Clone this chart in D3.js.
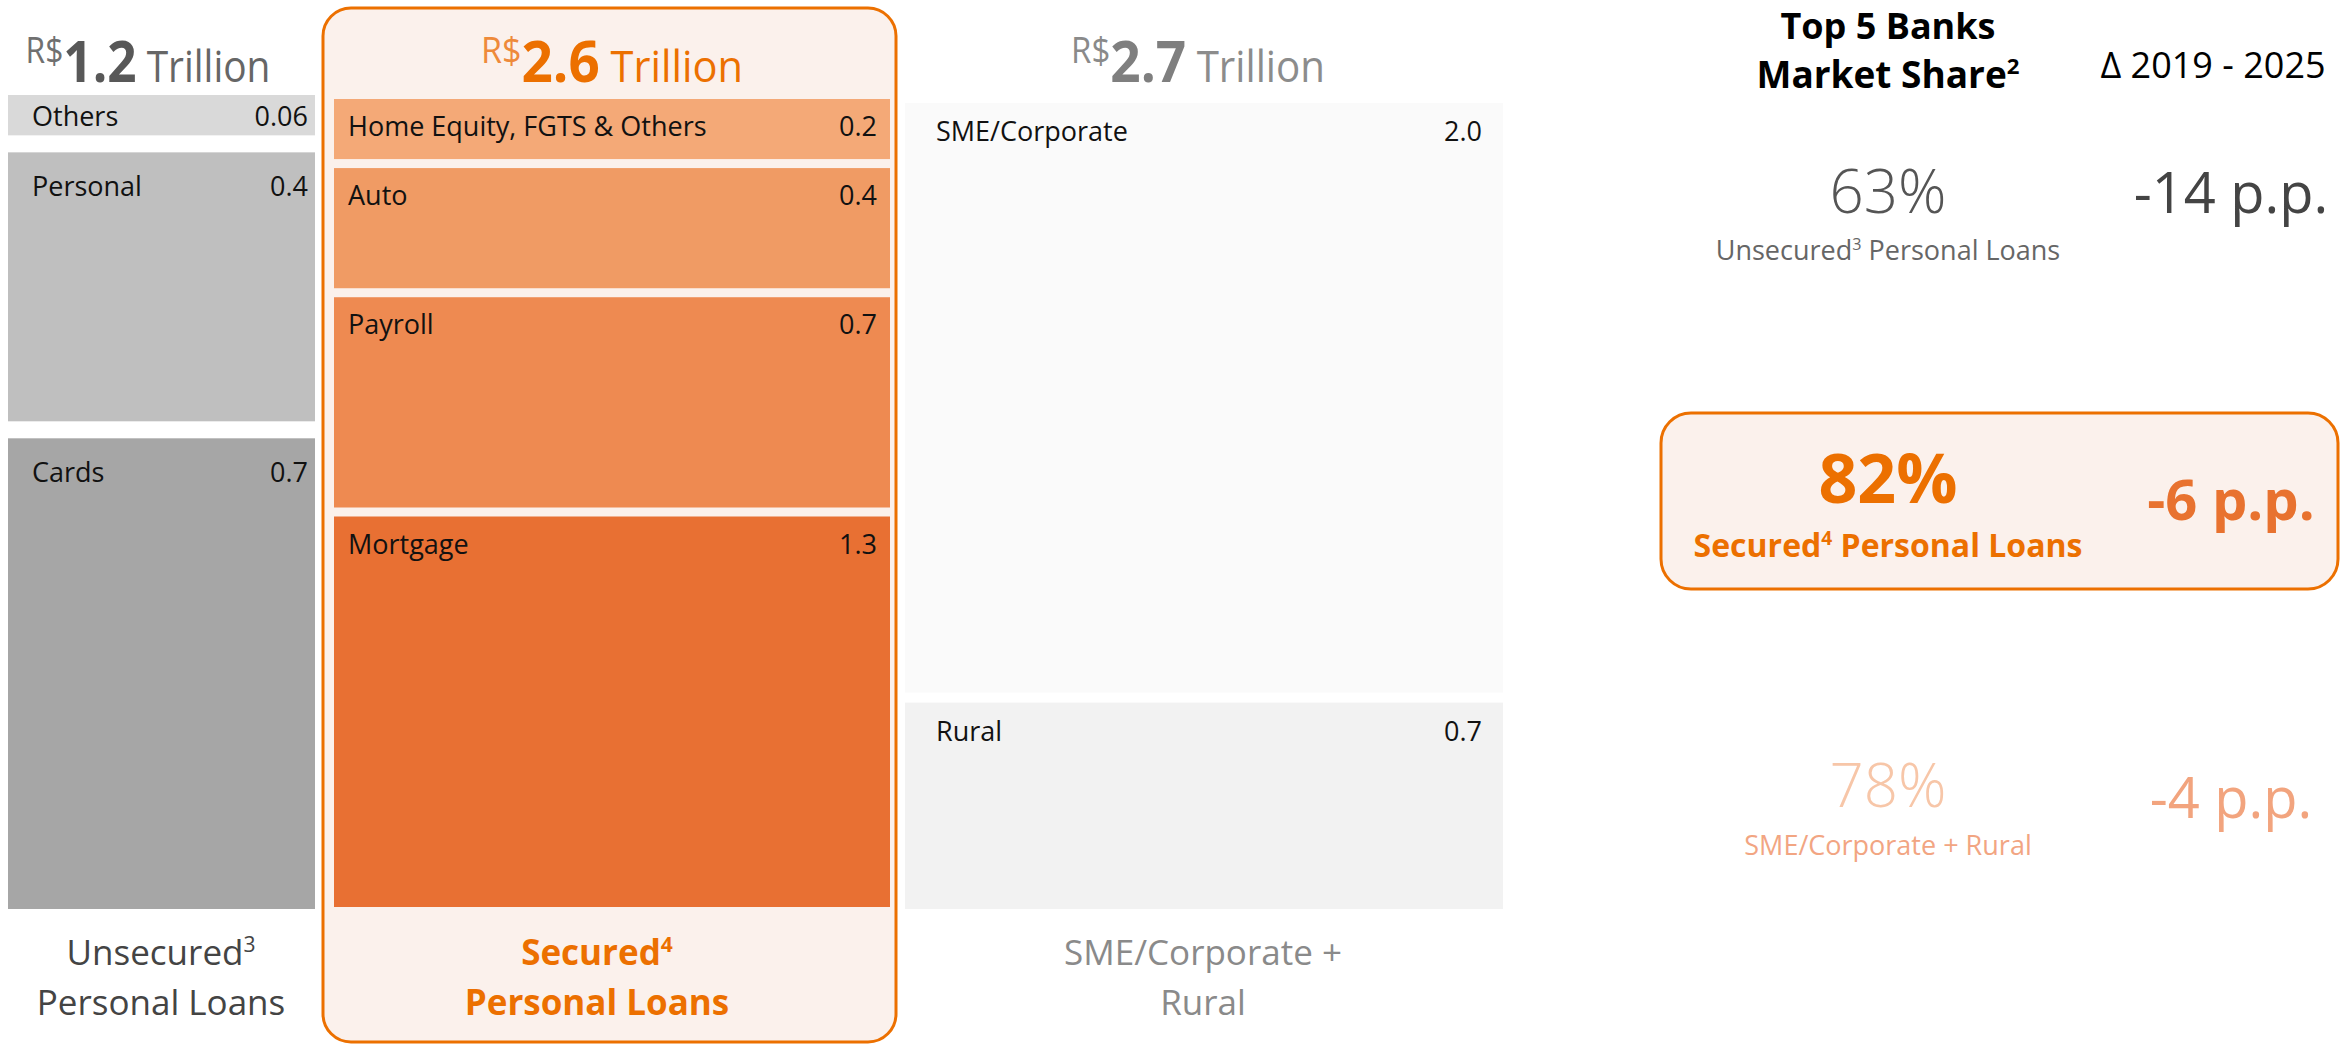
<!DOCTYPE html>
<html>
<head>
<meta charset="utf-8">
<script src="https://cdn.jsdelivr.net/npm/d3@7"></script>
<style>
  html, body { margin: 0; padding: 0; background: #fff; }
  svg { display: block; font-family: "Open Sans", "Noto Sans", sans-serif; }
</style>
</head>
<body>
<svg id="chart" width="2340" height="1044"></svg>
<script>
// ---- Credit portfolio by group (R$ trillion) ----
const groupKeys = ["unsecured", "secured", "corporate"];
const groupTotals = [1.2, 2.6, 2.7];
const groupFootnotes = ["3", "4", ""];

const unsecuredCategories = ["Others", "Personal", "Cards"];
const unsecuredValues = [0.06, 0.4, 0.7];

const securedCategories = ["Home Equity, FGTS & Others", "Auto", "Payroll", "Mortgage"];
const securedValues = [0.2, 0.4, 0.7, 1.3];

const corporateCategories = ["SME/Corporate", "Rural"];
const corporateValues = [2.0, 0.7];

// ---- Top 5 banks market share and change 2019-2025 ----
const shareValues = [63, 82, 78];
const shareDeltas = [-14, -6, -4];
const shareNames = ["Unsecured", "Secured", "SME/Corporate + Rural"];
const shareSuffixes = [" Personal Loans", " Personal Loans", ""];
const shareFootnotes = ["3", "4", ""];

// ---- layout and styling ----
const svg = d3.select("#chart");
const ORANGE = "#EC7000";

const columns = [
  { key: "unsecured", cats: unsecuredCategories, vals: unsecuredValues,
    x0: 8, x1: 315, top: 95, bottom: 909, gap: 17, padL: 24, padR: 7, labelDy: 44,
    colors: ["#D9D9D9", "#BFBFBF", "#A6A6A6"],
    titleX: 148, titleW: 245, rsColor: "#707070", numColor: "#585858", trColor: "#666666",
    bottomX: 161, bottomColor: "#444444", bottomWeight: 400,
    bottomLines: [[{ t: "Unsecured" }, { t: groupFootnotes[0], sup: true }], [{ t: "Personal Loans" }]] },
  { key: "secured", cats: securedCategories, vals: securedValues,
    x0: 334, x1: 890, top: 99, bottom: 907, gap: 9, padL: 14, padR: 13, labelDy: 37,
    colors: ["#F4A977", "#F09B64", "#EE8A51", "#E87033"],
    titleX: 612, titleW: 262, rsColor: "#EE8A3A", numColor: ORANGE, trColor: ORANGE,
    bottomX: 597, bottomColor: ORANGE, bottomWeight: 700,
    bottomLines: [[{ t: "Secured" }, { t: groupFootnotes[1], sup: true }], [{ t: "Personal Loans" }]] },
  { key: "corporate", cats: corporateCategories, vals: corporateValues,
    x0: 905, x1: 1503, top: 103, bottom: 909, gap: 10, padL: 31, padR: 21, labelDy: 38,
    colors: ["#FAFAFA", "#F2F2F2"],
    titleX: 1198, titleW: 254, rsColor: "#8A8A8A", numColor: "#7F7F7F", trColor: "#8C8C8C",
    bottomX: 1203, bottomColor: "#8A8A8A", bottomWeight: 400,
    bottomLines: [[{ t: "SME/Corporate +" }], [{ t: "Rural" }]] }
];

const fmtValue = v => (v < 0.1 ? d3.format(".2f")(v) : d3.format(".1f")(v));

// writes text made of plain and superscript pieces
function writeParts(textSel, parts, baseSize) {
  const rise = baseSize * 0.38;
  let pending = 0;
  parts.forEach(p => {
    const ts = textSel.append("tspan");
    if (p.sup) {
      ts.attr("font-size", baseSize * 0.6).attr("dy", pending - rise);
      pending = rise;
    } else {
      ts.attr("font-size", baseSize);
      if (pending) ts.attr("dy", pending);
      pending = 0;
    }
    ts.text(p.t);
  });
}

// highlight frame around the secured column
svg.append("rect")
  .attr("x", 323).attr("y", 8).attr("width", 573).attr("height", 1034)
  .attr("rx", 28).attr("ry", 28)
  .attr("fill", "#FBF1EC").attr("stroke", ORANGE).attr("stroke-width", 3);

columns.forEach((col, ci) => {
  const n = col.vals.length;
  const total = d3.sum(col.vals);
  const usable = (col.bottom - col.top) - col.gap * (n - 1);
  const h = d3.scaleLinear().domain([0, total]).range([0, usable]);

  const stacked = [];
  let acc = 0;
  col.vals.forEach((v, i) => {
    stacked.push({ cat: col.cats[i], value: v, y0: acc, idx: i });
    acc += v;
  });

  // label baseline inside each block, kept clear of short blocks' lower edge
  const labelY = d => Math.min(col.labelDy, h(d.value) - 9);

  const g = svg.append("g").attr("class", "col-" + col.key);
  const seg = g.selectAll("g.seg").data(stacked).join("g").attr("class", "seg")
    .attr("transform", d => `translate(0,${col.top + h(d.y0) + d.idx * col.gap})`);

  seg.append("rect")
    .attr("x", col.x0).attr("y", 0)
    .attr("width", col.x1 - col.x0)
    .attr("height", d => h(d.value))
    .attr("fill", (d, i) => col.colors[i]);

  seg.append("text")
    .attr("x", col.x0 + col.padL).attr("y", labelY)
    .attr("font-size", 27).attr("fill", "#111")
    .text(d => d.cat);

  seg.append("text")
    .attr("x", col.x1 - col.padR).attr("y", labelY)
    .attr("text-anchor", "end")
    .attr("font-size", 27).attr("fill", "#111")
    .text(d => fmtValue(d.value));

  // column total title, set in a narrow cut to fit over the column
  const title = svg.append("text")
    .attr("x", col.titleX).attr("y", 82)
    .attr("text-anchor", "middle");
  title.append("tspan").attr("font-size", 36).attr("dy", -19).attr("fill", col.rsColor).text("R$");
  title.append("tspan").attr("font-size", 58).attr("font-weight", 700).attr("dy", 19)
    .attr("fill", col.numColor).text(d3.format(".1f")(groupTotals[ci]));
  title.append("tspan").attr("font-size", 44).attr("fill", col.trColor).text("\u00A0Trillion");
  const bb = title.node().getBBox();
  const k = Math.min(1, col.titleW / bb.width);
  title.attr("x", 0).attr("y", 0)
    .attr("transform", `translate(${col.titleX},82) scale(${k},1)`);

  // column name at the bottom
  col.bottomLines.forEach((parts, li) => {
    const t = svg.append("text")
      .attr("x", col.bottomX).attr("y", 965 + li * 50)
      .attr("text-anchor", "middle")
      .attr("font-size", 35).attr("font-weight", col.bottomWeight)
      .attr("fill", col.bottomColor);
    writeParts(t, parts, 35);
  });
});

// ---- market share panel ----
svg.append("text").attr("x", 1888).attr("y", 39).attr("text-anchor", "middle")
  .attr("font-size", 36).attr("font-weight", 700).attr("fill", "#000").text("Top 5 Banks");
const ms = svg.append("text").attr("x", 1888).attr("y", 88).attr("text-anchor", "middle")
  .attr("font-size", 37).attr("font-weight", 700).attr("fill", "#000");
writeParts(ms, [{ t: "Market Share" }, { t: "2", sup: true }], 37);
svg.append("text").attr("x", 2213).attr("y", 78).attr("text-anchor", "middle")
  .attr("font-size", 36).attr("fill", "#000").text("\u0394 2019 - 2025");

// highlight box for secured row
svg.append("rect")
  .attr("x", 1661).attr("y", 413).attr("width", 677).attr("height", 176)
  .attr("rx", 30).attr("ry", 30)
  .attr("fill", "#FBF1EC").attr("stroke", ORANGE).attr("stroke-width", 3);

const rowStyles = [
  { shareY: 213, labelY: 260, deltaY: 213, shareSize: 60, shareWeight: 300, shareColor: "#555555",
    labelSize: 27, labelWeight: 400, labelColor: "#666666", deltaSize: 56, deltaWeight: 400, deltaColor: "#444444" },
  { shareY: 503, labelY: 557, deltaY: 520, shareSize: 68, shareWeight: 700, shareColor: ORANGE,
    labelSize: 32, labelWeight: 700, labelColor: ORANGE, deltaSize: 56, deltaWeight: 700, deltaColor: "#E8722F" },
  { shareY: 807, labelY: 855, deltaY: 818, shareSize: 60, shareWeight: 300, shareColor: "#F7C6A8",
    labelSize: 27, labelWeight: 400, labelColor: "#F2A582", deltaSize: 56, deltaWeight: 400, deltaColor: "#F2A47E" }
];

shareValues.forEach((v, i) => {
  const s = rowStyles[i];
  svg.append("text").attr("x", 1888).attr("y", s.shareY).attr("text-anchor", "middle")
    .attr("font-size", s.shareSize).attr("font-weight", s.shareWeight).attr("fill", s.shareColor)
    .text(v + "%");
  const lab = svg.append("text").attr("x", 1888).attr("y", s.labelY).attr("text-anchor", "middle")
    .attr("font-size", s.labelSize).attr("font-weight", s.labelWeight).attr("fill", s.labelColor);
  const parts = [{ t: shareNames[i] }];
  if (shareFootnotes[i]) parts.push({ t: shareFootnotes[i], sup: true });
  if (shareSuffixes[i]) parts.push({ t: shareSuffixes[i].replace(" ", "\u00A0") });
  writeParts(lab, parts, s.labelSize);
  svg.append("text").attr("x", 2231).attr("y", s.deltaY).attr("text-anchor", "middle")
    .attr("font-size", s.deltaSize).attr("font-weight", s.deltaWeight).attr("fill", s.deltaColor)
    .text(String(shareDeltas[i]) + " p.p.");
});
</script>
</body>
</html>
